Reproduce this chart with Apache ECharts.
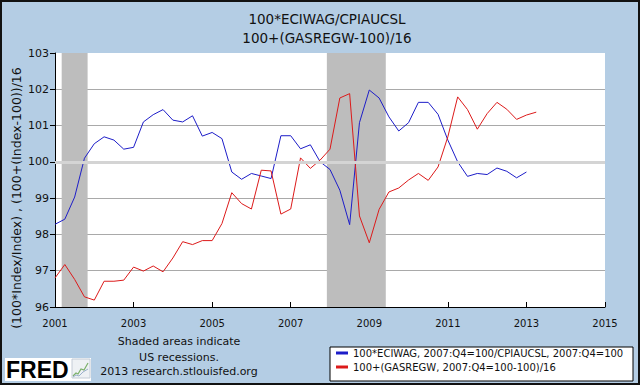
<!DOCTYPE html>
<html>
<head>
<meta charset="utf-8">
<script src="https://cdn.jsdelivr.net/npm/echarts@6/dist/echarts.min.js"></script>
<style>
html,body{margin:0;padding:0;background:#b4cde4;}
#chart{width:640px;height:385px;}
</style>
</head>
<body>
<div id="chart"></div>
<script>
// ---- data (quarterly, first point = 2001 Q1) ----
const startYear = 2001;
const quarterStep = 0.25;
const blueName = '100*ECIWAG, 2007:Q4=100/CPIAUCSL, 2007:Q4=100';
const redName = '100+(GASREGW, 2007:Q4=100-100)/16';
const blueValues = [
  98.28, 98.42, 99.03, 100.10,
  100.50, 100.69, 100.60, 100.35,
  100.40, 101.10, 101.30, 101.44,
  101.15, 101.10, 101.27, 100.71,
  100.81, 100.64, 99.72, 99.52,
  99.68, 99.61, 99.54, 100.72,
  100.72, 100.36, 100.47, 100.00,
  99.79, 99.22, 98.27, 101.08,
  101.98, 101.76, 101.24, 100.85,
  101.08, 101.64, 101.64, 101.31,
  100.60, 100.00, 99.60, 99.68,
  99.65, 99.83, 99.74, 99.56,
  99.72
];
const redValues = [
  96.80, 97.17, 96.76, 96.28,
  96.19, 96.71, 96.71, 96.74,
  97.10, 96.99, 97.13, 96.97,
  97.35, 97.80, 97.72, 97.83,
  97.83, 98.30, 99.15, 98.85,
  98.70, 99.77, 99.75, 98.56,
  98.70, 100.11, 99.82, 100.05,
  100.35, 101.76, 101.88, 98.51,
  97.77, 98.69, 99.17, 99.28,
  99.50, 99.68, 99.49, 99.86,
  100.69, 101.79, 101.44, 100.90,
  101.33, 101.64, 101.45, 101.17,
  101.29, 101.37
];
const recessionStarts = [2001.17, 2007.92];
const recessionEnds = [2001.83, 2009.42];
const xTickYears = [2001, 2003, 2005, 2007, 2009, 2011, 2013, 2015];
const yTicks = [96, 97, 98, 99, 100, 101, 102, 103];
const titleLines = ['100*ECIWAG/CPIAUCSL', '100+(GASREGW-100)/16'];
const yAxisTitle = '(100*Index/Index) , (100+(Index-100))/16';
const footerLines = ['Shaded areas indicate', 'US recessions.', '2013 research.stlouisfed.org'];

// ---- build ----
const toPairs = vals => vals.map((v, i) => [i * quarterStep, v]);
const FONT = 'DejaVu Sans, Verdana, sans-serif';
const chart = echarts.init(document.getElementById('chart'), null, {renderer: 'svg'});

const option = {
  backgroundColor: '#b4cde4',
  animation: false,
  title: {
    text: titleLines.join('\n'),
    left: 322, top: 5, textAlign: 'center',
    textStyle: {fontFamily: FONT, fontSize: 13.5, fontWeight: 'normal', color: '#111', lineHeight: 18.5}
  },
  grid: {left: 55, top: 53, width: 550, height: 254, backgroundColor: '#fff', show: true, borderWidth: 0},
  xAxis: {
    type: 'value', min: 0, max: xTickYears[xTickYears.length - 1] - startYear, interval: 2,
    axisLine: {show: true, lineStyle: {color: '#000', width: 1}},
    axisTick: {show: true, inside: true, length: 5, lineStyle: {color: '#000'}},
    axisLabel: {margin: 11, fontFamily: FONT, fontSize: 10, color: '#111', formatter: v => String(startYear + v)},
    splitLine: {show: false}
  },
  yAxis: {
    type: 'value', min: yTicks[0], max: yTicks[yTicks.length - 1], interval: 1,
    axisLine: {show: true, lineStyle: {color: '#000', width: 1}},
    axisTick: {show: true, inside: false, length: 5, lineStyle: {color: '#000'}},
    axisLabel: {margin: 6, fontFamily: FONT, fontSize: 11, color: '#111'},
    splitLine: {show: true, showMaxLine: false, showMinLine: false, lineStyle: {color: '#a9a9a9', width: 1}}
  },
  legend: {
    orient: 'vertical', left: 336, top: 348, itemGap: 4, itemWidth: 12, itemHeight: 3,
    icon: 'rect', padding: 0,
    textStyle: {fontFamily: FONT, fontSize: 10, color: '#111'},
    data: [blueName, redName]
  },
  graphic: [
    {type: 'rect', z: 1, shape: {x: 330, y: 347, width: 303, height: 34}, style: {fill: '#fff', stroke: '#000', lineWidth: 1}},
    {type: 'text', z: 5, x: 16, y: 198, rotation: Math.PI / 2,
      style: {text: yAxisTitle, fontFamily: FONT, fontSize: 12.5, fill: '#111', align: 'center', verticalAlign: 'middle'}},
    {type: 'text', z: 5, x: 179, y: 341.5, style: {text: footerLines[0], fontFamily: FONT, fontSize: 11, fill: '#111', align: 'center', verticalAlign: 'middle'}},
    {type: 'text', z: 5, x: 179, y: 357, style: {text: footerLines[1], fontFamily: FONT, fontSize: 11, fill: '#111', align: 'center', verticalAlign: 'middle'}},
    {type: 'text', z: 5, x: 179, y: 371.5, style: {text: footerLines[2], fontFamily: FONT, fontSize: 11, fill: '#111', align: 'center', verticalAlign: 'middle'}},
    {type: 'rect', z: 4, shape: {x: 5, y: 358, width: 86, height: 23}, style: {fill: '#fff'}},
    {type: 'text', z: 5, x: 6, y: 370, style: {text: 'FRED', fontFamily: 'Liberation Sans, Arial, sans-serif', fontWeight: 'bold', fontSize: 23, fill: '#000', align: 'left', verticalAlign: 'middle'}},
    {type: 'rect', z: 5, shape: {x: 72, y: 359, width: 18, height: 19}, style: {fill: '#eef1f4', stroke: '#c4ccd6', lineWidth: 1}},
    {type: 'polyline', z: 6, shape: {points: [[73, 376], [76, 373], [78, 374], [81, 369], [84, 370], [88, 363]]}, style: {fill: null, stroke: '#7bb06a', lineWidth: 1.2}},
    {type: 'polyline', z: 6, shape: {points: [[73, 377], [76, 375], [79, 376], [83, 372], [88, 369]]}, style: {fill: null, stroke: '#9ab0cc', lineWidth: 1}},
    {type: 'rect', z: 10, shape: {x: 1, y: 1, width: 638, height: 383}, style: {fill: null, stroke: '#111', lineWidth: 2}}
  ],
  series: [
    {
      name: 'ref100', type: 'line', data: [], z: 1, silent: true,
      markLine: {silent: true, symbol: 'none', label: {show: false},
        lineStyle: {color: '#d4d4d4', width: 3, type: 'solid'},
        data: [{yAxis: 100}]}
    },
    {
      name: 'recessions', type: 'line', data: [], z: 2, silent: true,
      markArea: {silent: true, itemStyle: {color: '#bdbdbd', opacity: 1},
        data: recessionStarts.map((s, i) => [{xAxis: s - startYear}, {xAxis: recessionEnds[i] - startYear}])}
    },
    {
      name: blueName, type: 'line', z: 3, data: toPairs(blueValues), showSymbol: false, symbol: 'none',
      color: '#1d1dc8', lineStyle: {color: '#1d1dc8', width: 1}
    },
    {
      name: redName, type: 'line', z: 3, data: toPairs(redValues), showSymbol: false, symbol: 'none',
      color: '#dc1a1a', lineStyle: {color: '#dc1a1a', width: 1}
    }
  ]
};
chart.setOption(option);
</script>
</body>
</html>
